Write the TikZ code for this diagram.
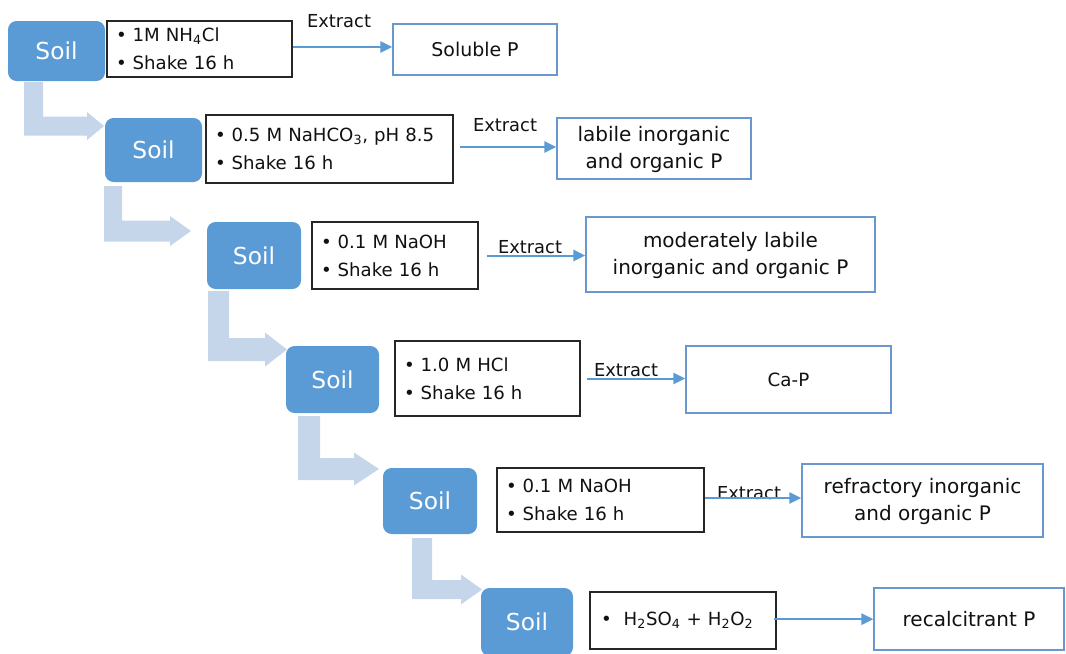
\documentclass[tikz,border=0pt]{standalone}
\usepackage{fontspec}
\setmainfont{DejaVu Sans}
\usetikzlibrary{arrows.meta}
\definecolor{soilblue}{HTML}{5B9BD5}
\definecolor{bentblue}{HTML}{C5D5EA}
\definecolor{resblue}{HTML}{6A98CE}
\definecolor{linkblue}{HTML}{5B9BD5}
\definecolor{txt}{HTML}{111111}
% xL xR ys yc bw hh hl xt
\newcommand{\bentarr}[8]{%
  \fill[bentblue] (#1,#3) -- (#2,#3) -- (#2,#4-#5) -- (#8-#7,#4-#5) -- (#8-#7,#4-#6) -- (#8,#4)
    -- (#8-#7,#4+#6) -- (#8-#7,#4+#5) -- (#1,#4+#5) -- cycle;}
\tikzset{
  soil/.style={fill=soilblue, rounded corners=6.5pt, inner sep=0pt, text=white,
    font=\fontsize{17.5}{21}\selectfont},
  reag/.style={draw=black!85, line width=1.1pt, fill=white, inner xsep=6.75pt, inner ysep=0pt,
    align=left, text=txt, font=\fontsize{13.6}{21}\selectfont},
  res/.style={draw=resblue, line width=1.1pt, fill=white, inner sep=0pt, align=center, text=txt,
    font=\fontsize{15}{20}\selectfont},
  lbl/.style={inner sep=0pt, text=txt, font=\fontsize{13.4}{16}\selectfont},
  ext/.style={draw=linkblue, line width=1.5pt, -{Triangle[length=9pt,width=8.5pt]}}
}
\begin{document}
\begin{tikzpicture}[x=0.75pt,y=-0.75pt]
\useasboundingbox (0,0) rectangle (1066,653);
\clip (0,0) rectangle (1066,653);

% bent arrows between soil steps
\bentarr{24}{43}{82}{126}{9.5}{14}{17}{104}
\bentarr{104}{122}{186}{231}{10.5}{15}{21}{191}
\bentarr{208}{229}{291}{349.5}{11.5}{17}{22}{287}
\bentarr{298}{320}{416}{469}{11}{16.5}{25}{379}
\bentarr{412}{432}{538}{589.5}{9.5}{15}{21}{482}

% soil boxes
\node[soil, minimum width=72.75pt, minimum height=45pt]    (s1) at (56.5,51)  {Soil};
\node[soil, minimum width=72.75pt, minimum height=48pt]    (s2) at (153.5,150) {Soil};
\node[soil, minimum width=70.5pt,  minimum height=50.25pt] (s3) at (254,255.5) {Soil};
\node[soil, minimum width=69.75pt, minimum height=50.25pt] (s4) at (332.5,379.5) {Soil};
\node[soil, minimum width=70.5pt,  minimum height=49.5pt]  (s5) at (430,501) {Soil};
\node[soil, minimum width=69pt,    minimum height=51pt]    (s6) at (527,622) {Soil};

% reagent boxes
\node[reag, text width=125.25pt, minimum height=42pt] (r1) at (199.5,49)
  {•\hspace{4.5pt}1M NH\textsubscript{4}Cl\\•\hspace{4.5pt}Shake 16 h};
\node[reag, text width=171.75pt, minimum height=51pt] (r2) at (329.5,149)
  {•\hspace{4.5pt}0.5 M NaHCO\textsubscript{3}, pH 8.5\\•\hspace{4.5pt}Shake 16 h};
\node[reag, text width=111pt, minimum height=50.25pt] (r3) at (395,255.5)
  {•\hspace{4.5pt}0.1 M NaOH\\•\hspace{4.5pt}Shake 16 h};
\node[reag, text width=125.25pt, minimum height=56.25pt] (r4) at (487.5,378.5)
  {•\hspace{4.5pt}1.0 M HCl\\•\hspace{4.5pt}Shake 16 h};
\node[reag, text width=141.75pt, minimum height=48pt] (r5) at (600.5,500)
  {•\hspace{4.5pt}0.1 M NaOH\\•\hspace{4.5pt}Shake 16 h};
\node[reag, text width=126pt, minimum height=42.75pt] (r6) at (683,620.5)
  {\hspace{1.5pt}•\hspace{9pt}H\textsubscript{2}SO\textsubscript{4} + H\textsubscript{2}O\textsubscript{2}};

% result boxes
\node[res, minimum width=123pt,    minimum height=38.25pt, font=\fontsize{14.2}{19}\selectfont] (p1) at (475,49.5) {Soluble P};
\node[res, minimum width=145.5pt,  minimum height=45.75pt] (p2) at (654,148.5) {\rule{0pt}{13pt}labile inorganic\\and organic P};
\node[res, minimum width=216.75pt, minimum height=56.25pt] (p3) at (730.5,254.5) {\rule{0pt}{13pt}moderately labile\\inorganic and organic P};
\node[res, minimum width=153.75pt, minimum height=50.25pt, font=\fontsize{13.7}{18}\selectfont] (p4) at (788.5,379.5) {Ca-P};
\node[res, minimum width=180.75pt, minimum height=54.75pt] (p5) at (922.5,500.5) {\rule{0pt}{13pt}refractory inorganic\\and organic P};
\node[res, minimum width=142.5pt,  minimum height=46.5pt]  (p6) at (969,619) {recalcitrant P};

% extract labels
\node[lbl] (e1) at (339,21)  {Extract};
\node[lbl] (e2) at (505,125) {Extract};
\node[lbl] (e3) at (530,247) {Extract};
\node[lbl] (e4) at (626,370) {Extract};
\node[lbl] (e5) at (749,493) {Extract};

% extraction arrows
\draw[ext] ([yshift=1.5pt]r1.east) -- ([yshift=1.5pt]r1.east -| p1.west);
\draw[ext] ([xshift=4.5pt,yshift=1.5pt]r2.east) -- ([yshift=1.5pt]r2.east -| p2.west);
\draw[ext] ([xshift=6pt]r3.east) -- (r3.east -| p3.west);
\draw[ext] ([xshift=4.5pt]r4.east) -- (r4.east -| p4.west);
\draw[ext] ([yshift=1.5pt]r5.east) -- ([yshift=1.5pt]r5.east -| p5.west);
\draw[ext] ([xshift=-2pt,yshift=1pt]r6.east) -- ([yshift=1pt]r6.east -| p6.west);
\end{tikzpicture}
\end{document}
